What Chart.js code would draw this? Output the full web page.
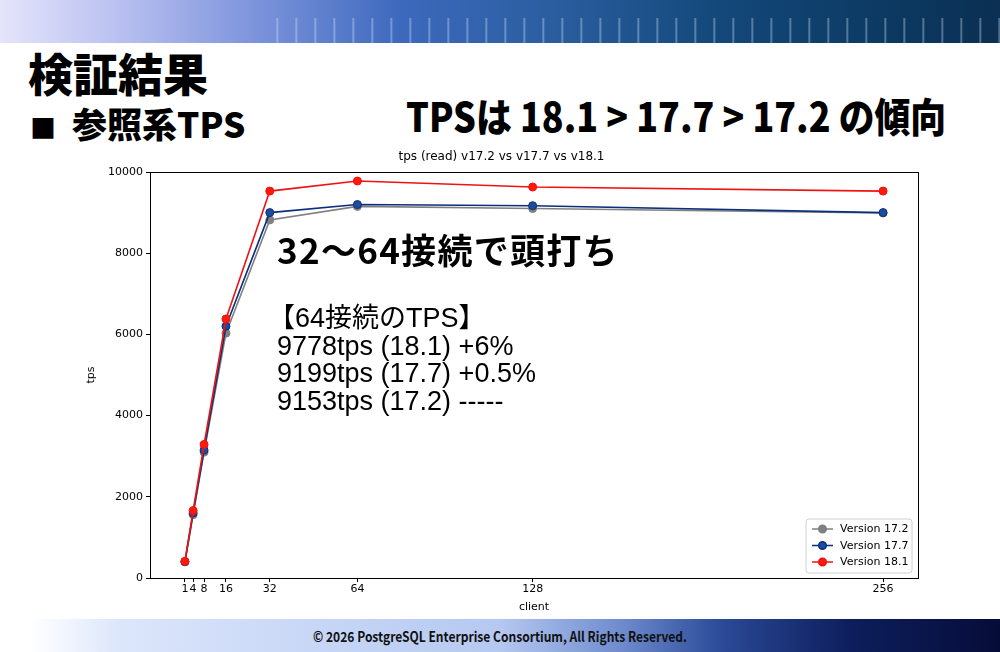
<!DOCTYPE html>
<html>
<head>
<meta charset="utf-8">
<script src="https://cdn.jsdelivr.net/npm/chart.js@4"></script>
<style>
  body { margin: 0; }
  #page { position: relative; width: 1000px; height: 652px; overflow: hidden; background: #fff; }
  #banner { position: absolute; left: 0; top: 0; width: 1000px; height: 43px;
    background: linear-gradient(90deg, #e4e4fb 0%, #b9c0f0 12%, #7f95dc 25%, #3d69bd 40%, #2a5ea0 55%, #13487a 72%, #0c3a63 88%, #0b2f52 100%); }
  #banner:after { content: ''; position: absolute; left: 260px; right: 0; top: 18px; bottom: 0;
    background: repeating-linear-gradient(90deg, rgba(255,255,255,0) 0px, rgba(255,255,255,0) 16px, rgba(220,235,255,0.45) 17px, rgba(255,255,255,0) 19px); }
  #footer { position: absolute; left: 0; top: 619px; width: 1000px; height: 33px;
    background: linear-gradient(90deg, #ffffff 3%, #dce6fb 12%, #c4d4f6 35%, #b6c8f0 50%, #6f8ccf 62%, #2b4a98 72%, #0d1e5c 85%, #060c38 100%); }
  #footer span { position: absolute; left: 0; width: 1000px; top: 7px; text-align: center; font: bold 14px "Noto Sans CJK JP"; color: #111; transform: scaleX(0.86); }
  .jp { position: absolute; font-family: "Noto Sans CJK JP"; font-weight: 900; color: #000; white-space: nowrap; }
  #note { position: absolute; left: 277px; top: 226px; z-index: 2; white-space: nowrap; }
  #note .big { font: bold 35px "Noto Sans CJK JP"; line-height: 46px; letter-spacing: 1.3px; }
  #note .sm { font: 27px "Liberation Sans", "Noto Sans CJK JP"; line-height: 27.5px; }
  canvas { position: absolute; left: 0; top: 0; }
</style>
</head>
<body>
<div id="page">
  <div id="banner"></div>
  <div class="jp" style="left:28px; top:40px; font-size:45px;">検証結果</div>
  <div class="jp" style="left:30px; top:97px; font-size:35px;"><span style="font-size:26px;">■</span>&nbsp;&nbsp;参照系TPS</div>
  <div class="jp" id="head2" style="left:406px; top:86px; font-size:40px; transform-origin:0 0;">TPSは 18.1 &gt; 17.7 &gt; 17.2 の傾向</div>
  <canvas id="chart" width="1000" height="652"></canvas>
  <div id="note">
    <div class="big">32〜64接続で頭打ち</div>
    <div style="height:33px"></div>
    <div class="sm" style="margin-left:-9px">【64接続のTPS】</div>
    <div class="sm">9778tps (18.1) +6%</div>
    <div class="sm">9199tps (17.7) +0.5%</div>
    <div class="sm">9153tps (17.2) -----</div>
  </div>
  <div id="footer"><span>© 2026 PostgreSQL Enterprise Consortium, All Rights Reserved.</span></div>
</div>
<script>
const clients = [1, 4, 8, 16, 32, 64, 128, 256];
const v172 = [400, 1560, 3100, 6030, 8820, 9153, 9100, 8990];
const v177 = [400, 1600, 3150, 6200, 9000, 9199, 9170, 9000];
const v181 = [410, 1660, 3290, 6380, 9530, 9778, 9630, 9530];
const xTicks = [1, 4, 8, 16, 32, 64, 128, 256];
const yTicks = [0, 2000, 4000, 6000, 8000, 10000];
const seriesNames = ['Version 17.2', 'Version 17.7', 'Version 18.1'];

// stretch the heading to the width it has on the slide
const head2 = document.getElementById('head2');
head2.style.transform = 'scaleX(' + (540 / head2.offsetWidth) + ')';

Chart.defaults.font.family = 'DejaVu Sans';
Chart.defaults.color = '#000';

function points(values) {
    return clients.map((c, i) => ({ x: c, y: values[i] }));
}

const lineColors = ['#808080', '#0c2f7c', '#f01212'];
const dotColors = ['#808080', '#1c4c9a', '#ff1a0a'];

const frame = {
    id: 'frame',
    afterDraw(chart) {
        const { ctx, chartArea: a } = chart;
        ctx.save();
        ctx.strokeStyle = '#000';
        ctx.lineWidth = 1;
        ctx.strokeRect(a.left + 0.5, a.top + 0.5, a.right - a.left, a.bottom - a.top);

        // legend in the lower right corner
        const rowH = 16.5, w = 106, h = 54;
        const x0 = a.right - 6 - w, y0 = a.bottom - 5 - h;
        ctx.fillStyle = 'rgba(255,255,255,0.9)';
        ctx.strokeStyle = '#d0d0d0';
        ctx.beginPath();
        ctx.roundRect(x0, y0, w, h, 3);
        ctx.fill();
        ctx.stroke();
        ctx.font = '11px DejaVu Sans';
        ctx.textBaseline = 'middle';
        seriesNames.forEach((name, i) => {
            const y = y0 + 10 + i * rowH;
            ctx.strokeStyle = lineColors[i];
            ctx.lineWidth = 1.5;
            ctx.beginPath();
            ctx.moveTo(x0 + 6, y);
            ctx.lineTo(x0 + 27, y);
            ctx.stroke();
            ctx.fillStyle = dotColors[i];
            ctx.beginPath();
            ctx.arc(x0 + 16.5, y, 3.8, 0, Math.PI * 2);
            ctx.fill();
            ctx.stroke();
            ctx.fillStyle = '#000';
            ctx.fillText(name, x0 + 34, y + 0.5);
        });
        ctx.restore();
    }
};

new Chart(document.getElementById('chart').getContext('2d'), {
    type: 'line',
    data: {
        datasets: [v172, v177, v181].map((values, i) => ({
            label: seriesNames[i],
            data: points(values),
            borderColor: lineColors[i],
            backgroundColor: dotColors[i],
            pointBackgroundColor: dotColors[i],
            pointBorderColor: lineColors[i],
            pointBorderWidth: 1,
            pointRadius: 4,
            borderWidth: 1.6,
            tension: 0,
            order: 2 - i
        }))
    },
    options: {
        responsive: false,
        animation: false,
        devicePixelRatio: 1,
        layout: { padding: { left: 85, right: 82, top: 150, bottom: 38 } },
        plugins: {
            legend: { display: false },
            tooltip: { enabled: false },
            title: {
                display: true,
                text: 'tps (read) v17.2 vs v17.7 vs v18.1',
                font: { size: 12, weight: 'normal' },
                color: '#000',
                padding: { top: 0, bottom: 7.6 }
            }
        },
        scales: {
            x: {
                type: 'linear',
                min: -11.75,
                max: 268.75,
                afterBuildTicks: scale => { scale.ticks = xTicks.map(v => ({ value: v })); },
                afterFit: scale => { scale.height = 36; },
                ticks: { autoSkip: false, maxRotation: 0, font: { size: 11 }, padding: 1 },
                grid: { display: true, drawOnChartArea: false, drawTicks: true, tickLength: 4, color: '#000' },
                border: { display: false },
                title: { display: true, text: 'client', font: { size: 11 }, padding: { top: 2, bottom: 0 } }
            },
            y: {
                min: 0,
                max: 10000,
                afterBuildTicks: scale => { scale.ticks = yTicks.map(v => ({ value: v })); },
                afterFit: scale => { scale.width = 65; },
                ticks: { font: { size: 11 }, padding: 3, callback: v => String(v) },
                grid: { display: true, drawOnChartArea: false, drawTicks: true, tickLength: 4, color: '#000' },
                border: { display: false },
                title: { display: true, text: 'tps', font: { size: 11 }, padding: 0 }
            }
        }
    },
    plugins: [frame]
});
</script>
</body>
</html>
